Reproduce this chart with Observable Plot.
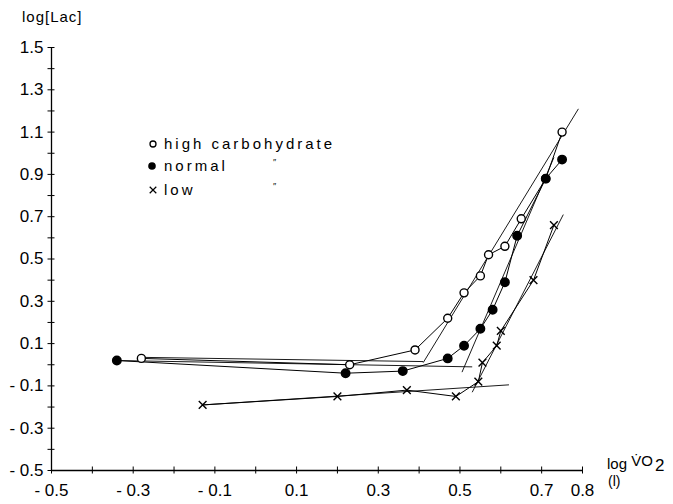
<!DOCTYPE html>
<html>
<head>
<meta charset="utf-8">
<script src="https://cdn.jsdelivr.net/npm/d3@7"></script>
<script src="https://cdn.jsdelivr.net/npm/@observablehq/plot@0.6"></script>
<style>
  html, body { margin: 0; padding: 0; background: #fff; }
  #chart { position: relative; width: 673px; height: 504px; }
</style>
</head>
<body>
<div id="chart"></div>
<script>
// ---- data ----
const highX   = [-0.28, 0.23, 0.39, 0.47, 0.51, 0.55, 0.57, 0.61, 0.65, 0.71, 0.75];
const highY   = [ 0.03, 0.00, 0.07, 0.22, 0.34, 0.42, 0.52, 0.56, 0.69, 0.88, 1.10];
const normalX = [-0.34, 0.22, 0.36, 0.47, 0.51, 0.55, 0.58, 0.61, 0.64, 0.71, 0.75];
const normalY = [ 0.02,-0.04,-0.03, 0.03, 0.09, 0.17, 0.26, 0.39, 0.61, 0.88, 0.97];
const lowX    = [-0.13, 0.20, 0.37, 0.49, 0.545, 0.555, 0.59, 0.60, 0.68, 0.73];
const lowY    = [-0.19,-0.15,-0.12,-0.15,-0.08, 0.01, 0.09, 0.16, 0.40, 0.66];

// fitted straight lines (start/end)
const fitX1 = [-0.28, -0.34, 0.41, 0.505, -0.13, 0.53];
const fitY1 = [ 0.035, 0.02, 0.01, -0.035, -0.19, -0.13];
const fitX2 = [ 0.41, 0.53, 0.79, 0.73, 0.62, 0.753];
const fitY2 = [ 0.015, -0.01, 1.21, 0.98, -0.095, 0.71];

const xTickLabels = [-0.5, -0.3, -0.1, 0.1, 0.3, 0.5, 0.7, 0.8];
const xMinorTicks = [-0.5,-0.4,-0.3,-0.2,-0.1,0,0.1,0.2,0.3,0.4,0.5,0.6,0.7,0.8];
const yTickLabels = [-0.5, -0.3, -0.1, 0.1, 0.3, 0.5, 0.7, 0.9, 1.1, 1.3, 1.5];
const yMinorTicks = [-0.5,-0.4,-0.3,-0.2,-0.1,0,0.1,0.2,0.3,0.4,0.5,0.6,0.7,0.8,0.9,1.0,1.1,1.2,1.3,1.4,1.5];

const legendLabels = ["high carbohydrate", "normal", "low"];
const yTitle = "log[Lac]";

// ---- build tables ----
const toRows = (xs, ys) => xs.map((x, i) => ({x, y: ys[i]}));
const high = toRows(highX, highY);
const normal = toRows(normalX, normalY);
const low = toRows(lowX, lowY);
const fits = fitX1.map((x1, i) => ({x1, y1: fitY1[i], x2: fitX2[i], y2: fitY2[i]}));

const fmt = v => {
  const s = Math.abs(v).toFixed(1);
  return v < 0 ? "- " + s : s;
};
const NARROW = "'Liberation Sans Narrow', 'Liberation Sans', Arial, sans-serif";
const FONT = "'Liberation Sans', Arial, sans-serif";

const chart = Plot.plot({
  width: 673,
  height: 504,
  marginLeft: 51,
  marginRight: 91,
  marginTop: 47,
  marginBottom: 34,
  style: {fontFamily: NARROW, fontSize: "17px", color: "#000", background: "#fff", overflow: "visible"},
  x: {domain: [-0.5, 0.8], label: null},
  y: {domain: [-0.5, 1.5], label: null},
  marks: [
    Plot.ruleX([-0.5], {stroke: "#000", strokeWidth: 1.3}),
    Plot.ruleY([-0.5], {stroke: "#000", strokeWidth: 1.3}),
    Plot.axisY({ticks: yMinorTicks, tickSize: 7, dx: 3.5, tickFormat: () => "", label: null, stroke: "#000", strokeWidth: 1}),
    Plot.axisX({ticks: xMinorTicks, tickSize: 7, dy: -3.5, tickFormat: () => "", label: null, stroke: "#000", strokeWidth: 1}),
    Plot.axisY({ticks: yTickLabels, tickSize: 0, tickPadding: 8, tickFormat: fmt, label: null, fontSize: 17, fill: "#000"}),
    Plot.axisX({ticks: xTickLabels, tickSize: 0, tickPadding: 13, tickFormat: fmt, label: null, fontSize: 17, fill: "#000"}),
    Plot.link(fits, {x1: "x1", y1: "y1", x2: "x2", y2: "y2", stroke: "#000", strokeWidth: 0.9}),
    Plot.line(high, {x: "x", y: "y", stroke: "#000", strokeWidth: 1}),
    Plot.line(normal, {x: "x", y: "y", stroke: "#000", strokeWidth: 1}),
    Plot.line(low, {x: "x", y: "y", stroke: "#000", strokeWidth: 1}),
    Plot.dot(high, {x: "x", y: "y", r: 4, fill: "#fff", stroke: "#000", strokeWidth: 1.4}),
    Plot.dot(normal, {x: "x", y: "y", r: 4.2, fill: "#000", stroke: "#000"}),
    Plot.dot(low, {x: "x", y: "y", r: 3.6, symbol: "times", stroke: "#000", strokeWidth: 1.4})
  ]
});

document.getElementById("chart").appendChild(chart);

// ---- titles and legend (SVG text) ----
const svg = d3.select(chart);
svg.append("text").attr("x", 22).attr("y", 22).attr("text-anchor", "start")
  .attr("font-family", FONT).attr("font-size", 15).attr("letter-spacing", 1).text(yTitle);

const xt = svg.append("text").attr("x", 607).attr("y", 469).attr("text-anchor", "start")
  .attr("font-family", FONT).attr("font-size", 15);
xt.append("tspan").text("log ");
xt.append("tspan").attr("dy", -3).text("V\u0307O");
xt.append("tspan").attr("dy", 5).attr("dx", 2).attr("font-size", 17).text("2");
svg.append("text").attr("x", 608).attr("y", 486).attr("text-anchor", "start")
  .attr("font-family", FONT).attr("font-size", 14).text("(l)");

const lg = svg.append("g").attr("font-family", FONT).attr("font-size", 15).attr("letter-spacing", 3)
  .attr("text-anchor", "start");
const rows = [144, 166, 190];
lg.append("circle").attr("cx", 153).attr("cy", rows[0]).attr("r", 3).attr("fill", "#fff").attr("stroke", "#000").attr("stroke-width", 1.3);
lg.append("circle").attr("cx", 152).attr("cy", rows[1]).attr("r", 3.8).attr("fill", "#000");
lg.append("path").attr("d", d3.symbol(d3.symbolTimes, 30)()).attr("transform", `translate(153,${rows[2]})`).attr("stroke", "#000").attr("stroke-width", 1.2);
legendLabels.forEach((t, i) => {
  lg.append("text").attr("x", 164).attr("y", rows[i]).attr("dy", "0.35em").text(t);
});
[1, 2].forEach(i => {
  lg.append("text").attr("x", 273).attr("y", rows[i] - 1).attr("font-size", 9).attr("letter-spacing", 0).text("\u2033");
});
</script>
</body>
</html>
